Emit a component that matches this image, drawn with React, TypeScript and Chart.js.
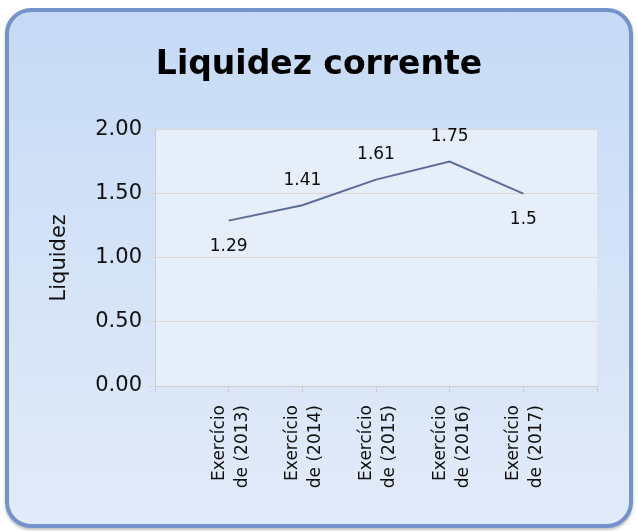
import React, { useEffect, useRef } from 'react';
import { Chart, registerables } from 'chart.js';

Chart.register(...registerables);

const chartTitle = 'Liquidez corrente';
const yAxisTitle = 'Liquidez';
const categories = [
  'Exercício de (2013)',
  'Exercício de (2014)',
  'Exercício de (2015)',
  'Exercício de (2016)',
  'Exercício de (2017)',
];
const values = [1.29, 1.41, 1.61, 1.75, 1.5];
const yMin = 0;
const yMax = 2;
const yStep = 0.5;

const FONT = "'DejaVu Sans', Verdana, sans-serif";

const plotBgPlugin = {
  id: 'plotBg',
  beforeDraw(chart: any) {
    const { ctx, chartArea } = chart;
    if (!chartArea) return;
    ctx.save();
    ctx.fillStyle = '#e6eefa';
    ctx.fillRect(chartArea.left, chartArea.top, chartArea.right - chartArea.left, chartArea.bottom - chartArea.top);
    ctx.restore();
  },
};

const dataLabelPlugin = {
  id: 'dataLabels',
  afterDatasetsDraw(chart: any) {
    const { ctx } = chart;
    const meta = chart.getDatasetMeta(0);
    ctx.save();
    ctx.font = `17px ${FONT}`;
    ctx.fillStyle = '#0d0d0d';
    ctx.textAlign = 'center';
    ctx.textBaseline = 'middle';
    meta.data.forEach((pt: any, i: number) => {
      const v = values[i];
      const above = i > 0 && v > values[i - 1];
      const y = above ? pt.y - 25 : pt.y + 26;
      ctx.fillText(String(v), pt.x, y);
    });
    ctx.restore();
  },
};

export default function App() {
  const canvasRef = useRef<HTMLCanvasElement | null>(null);

  useEffect(() => {
    if (!canvasRef.current) return;
    const chart = new Chart(canvasRef.current, {
      type: 'line',
      data: {
        datasets: [
          {
            data: values.map((v, i) => ({ x: i, y: v })),
            borderColor: '#5d6b99',
            borderWidth: 2,
            pointRadius: 0,
            tension: 0,
            fill: false,
          },
        ],
      },
      options: {
        animation: false,
        responsive: false,
        devicePixelRatio: 1,
        layout: { padding: { left: 41, right: 41, top: 0, bottom: 0 } },
        plugins: {
          legend: { display: false },
          tooltip: { enabled: false },
          title: {
            display: true,
            text: chartTitle,
            color: '#000000',
            font: { family: FONT, size: 33, weight: 'bold', lineHeight: 1.2 },
            padding: { top: 46, bottom: 44 },
          },
        },
        scales: {
          x: {
            type: 'linear',
            min: -1,
            max: categories.length,
            afterFit: (scale: any) => {
              scale.height = 145;
            },
            grid: {
              drawOnChartArea: false,
              drawTicks: true,
              tickLength: 7,
              color: '#cfcdc8',
            },
            border: { color: '#cfcdc8' },
            ticks: {
              stepSize: 1,
              autoSkip: false,
              minRotation: 90,
              maxRotation: 90,
              padding: 12,
              labelOffset: -9.5,
              color: '#111111',
              font: { family: FONT, size: 17, lineHeight: 1.35 },
              callback: (v: any) => {
                const idx = Number(v);
                if (!Number.isInteger(idx) || idx < 0 || idx >= categories.length) return '';
                const label = categories[idx];
                const cut = label.indexOf(' de ');
                return cut >= 0 ? [label.slice(0, cut), label.slice(cut + 1)] : label;
              },
            },
          },
          y: {
            min: yMin,
            max: yMax,
            afterFit: (scale: any) => {
              scale.width = 114;
            },
            grid: {
              drawOnChartArea: true,
              drawTicks: true,
              tickLength: 7,
              color: '#dcd8d0',
            },
            border: { color: '#cfcdc8' },
            ticks: {
              stepSize: yStep,
              padding: 6,
              color: '#111111',
              font: { family: FONT, size: 21 },
              callback: (v: any) => Number(v).toFixed(2),
            },
            title: {
              display: true,
              text: yAxisTitle,
              color: '#111111',
              font: { family: FONT, size: 21, lineHeight: 1.2 },
              padding: { top: 6, bottom: 0 },
            },
          },
        },
      },
      plugins: [plotBgPlugin, dataLabelPlugin],
    } as any);
    return () => chart.destroy();
  }, []);

  return (
    <div style={{ position: 'fixed', left: 0, top: 0, width: 638, height: 531, background: '#ffffff' }}>
      <div
        style={{
          position: 'absolute',
          left: 5,
          top: 8,
          width: 628,
          height: 520,
          boxSizing: 'border-box',
          border: '4px solid #7393cb',
          borderRadius: 26,
          background: 'linear-gradient(180deg, #c6daf6 0%, #d3e2f7 45%, #e2ebf9 100%)',
          boxShadow: '0 2px 3px rgba(0,0,0,0.25)',
        }}
      />
      <canvas
        ref={canvasRef}
        width={638}
        height={531}
        style={{ position: 'absolute', left: 0, top: 0, width: 638, height: 531 }}
      />
    </div>
  );
}
